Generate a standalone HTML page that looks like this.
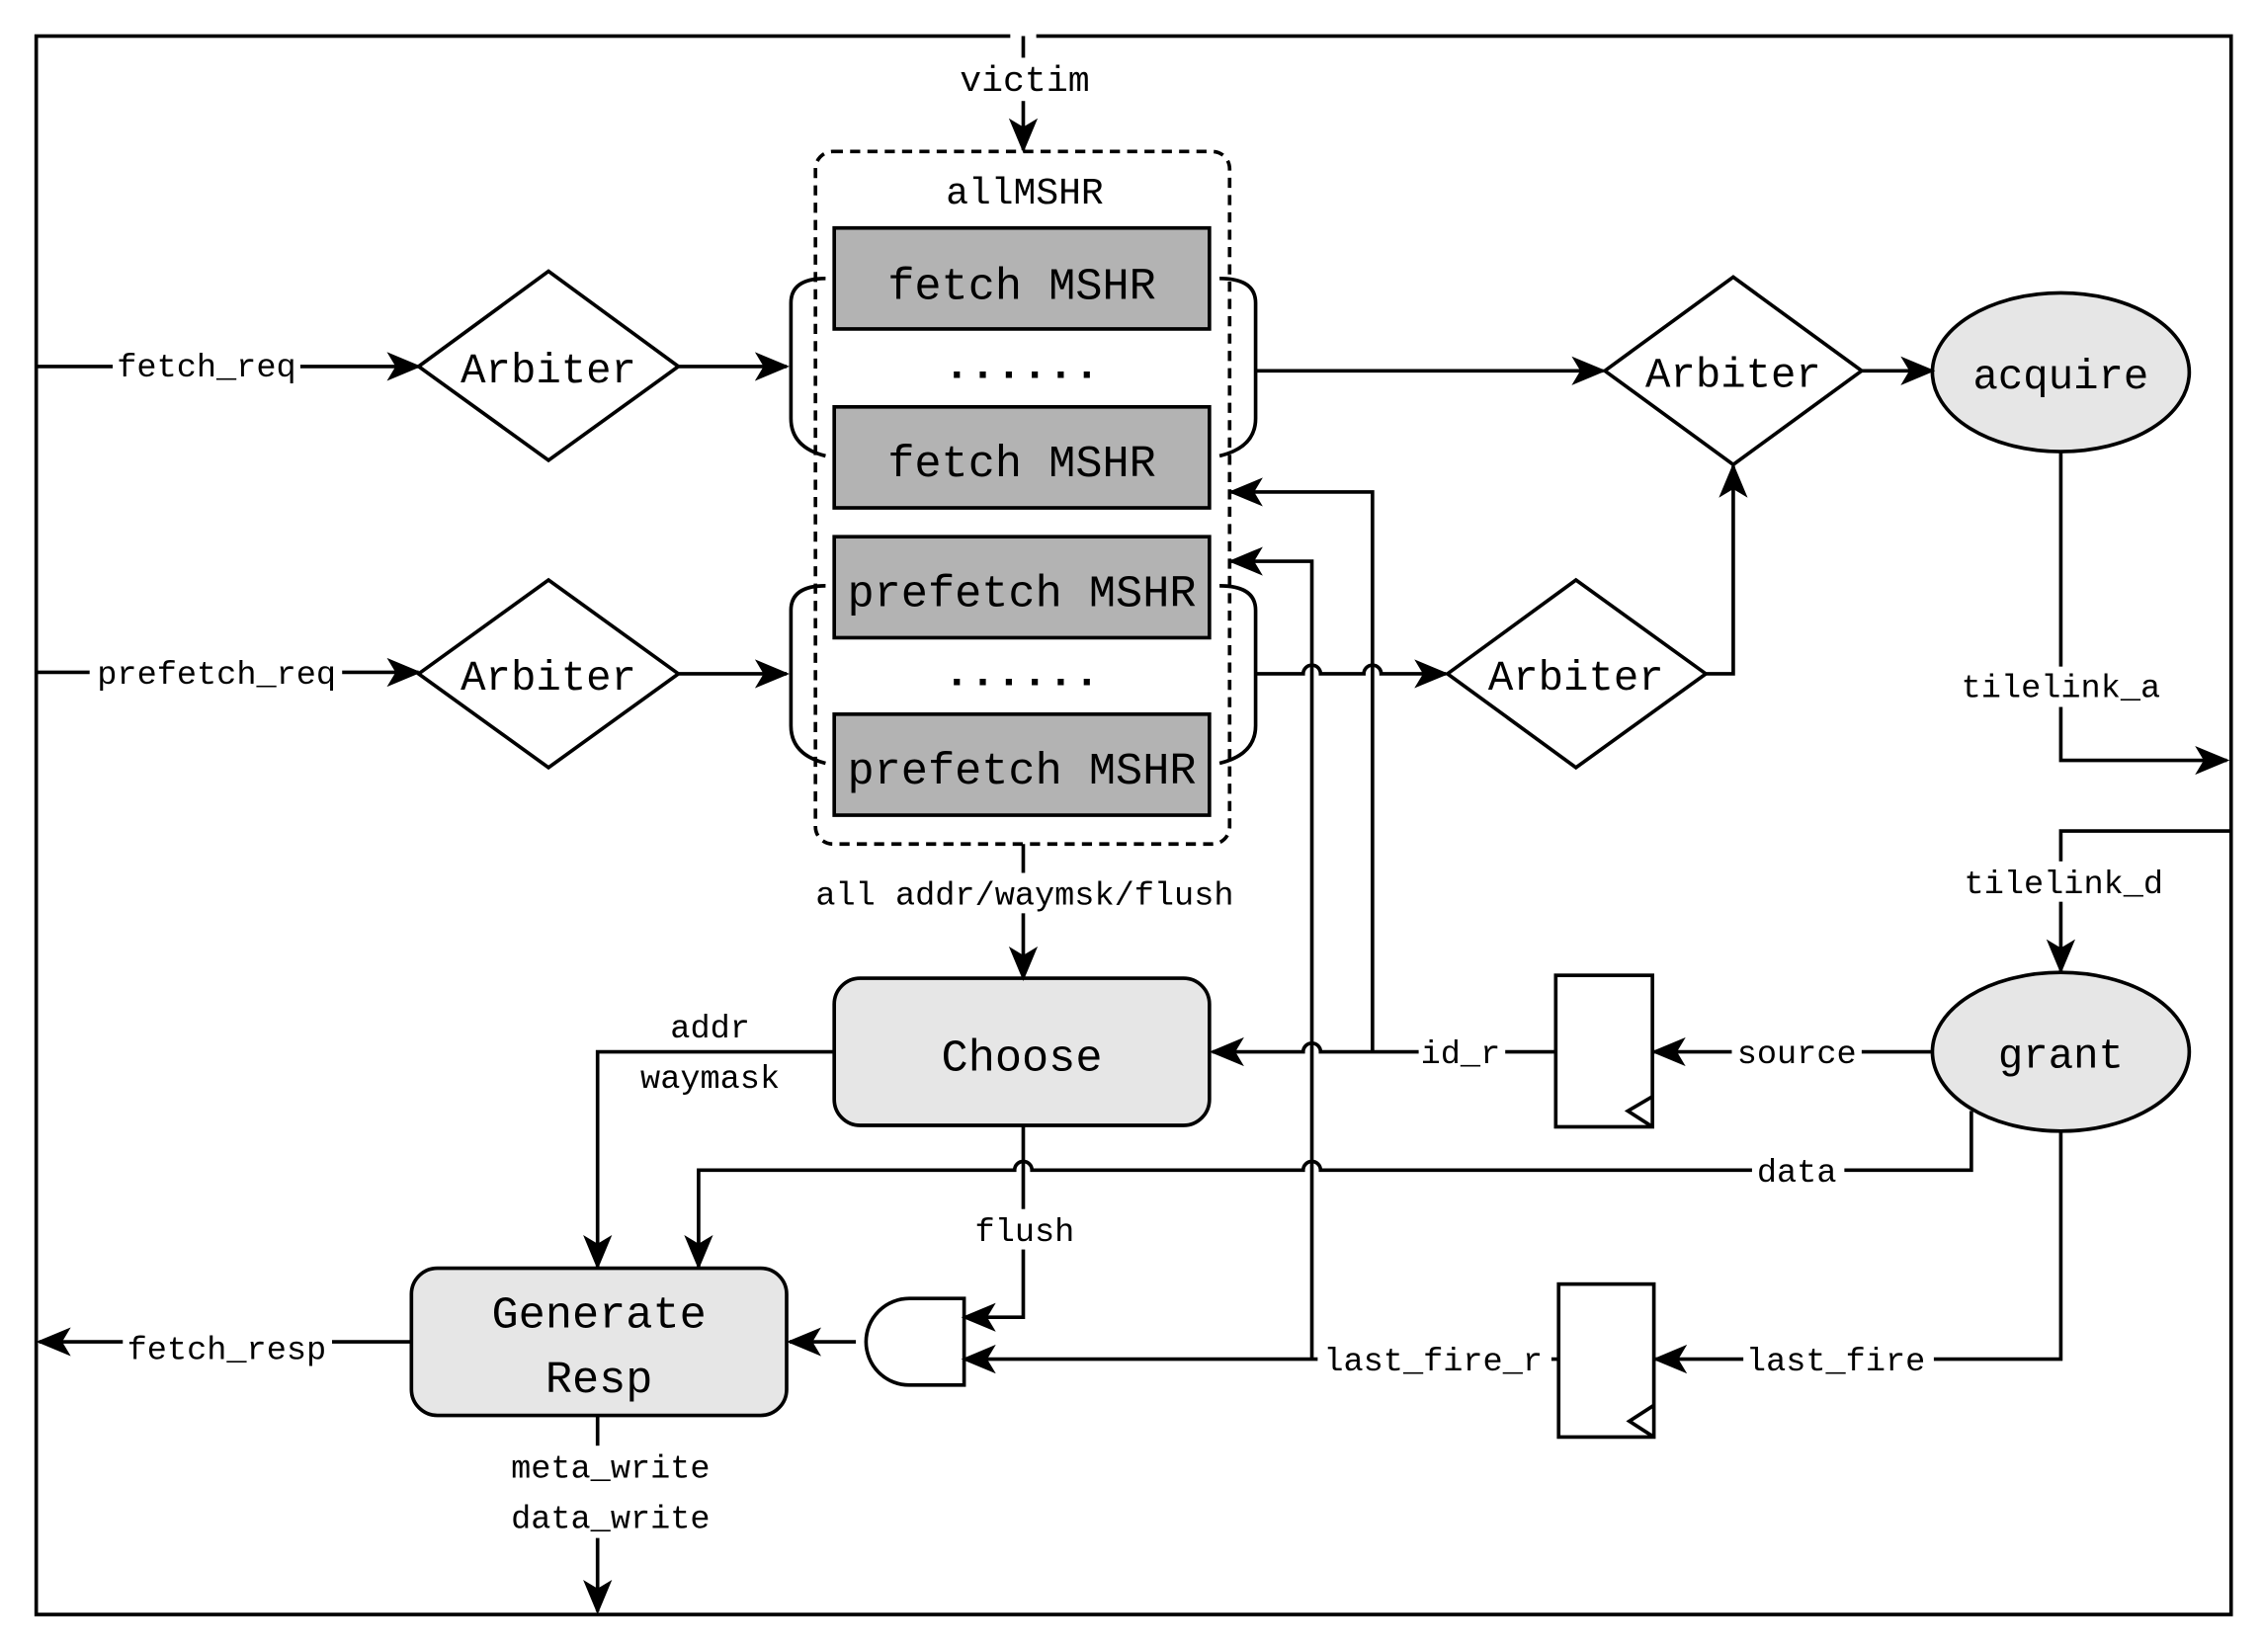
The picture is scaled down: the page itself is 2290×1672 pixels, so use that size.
<!DOCTYPE html>
<html><head><meta charset="utf-8"><style>html,body{margin:0;padding:0;background:#fff}svg{display:block}</style></head>
<body>
<svg width="2290" height="1672" viewBox="0 0 1568 1145" xmlns="http://www.w3.org/2000/svg" font-family="Liberation Mono, monospace">
<defs>
<marker id="a" markerWidth="12" markerHeight="12" refX="11" refY="6" orient="auto" markerUnits="userSpaceOnUse" viewBox="0 0 12 12">
<path d="M0,0 L12,6 L0,12 L3,6 Z" fill="#000"/>
</marker>
<marker id="b" markerWidth="24" markerHeight="24" refX="22" refY="12" orient="auto" markerUnits="userSpaceOnUse" viewBox="0 0 24 24">
<path d="M0,2 L24,12 L0,22 L6,12 Z" fill="#000"/>
</marker>
</defs>
<g fill="none" stroke="#000" stroke-width="2.5">
<rect x="25" y="25" width="1521" height="1094"/>
<rect x="565" y="105" width="287" height="480" rx="12" stroke-dasharray="7,5"/>
</g>
<rect x="700" y="20" width="18" height="8" fill="#fff"/>
<g stroke="#000" stroke-width="2.5" fill="#b3b3b3">
<rect x="578" y="158" width="260" height="70"/>
<rect x="578" y="282" width="260" height="70"/>
<rect x="578" y="372" width="260" height="70"/>
<rect x="578" y="495" width="260" height="70"/>
</g>
<g stroke="#000" stroke-width="2.5" fill="#fff">
<polygon points="290,254 380,188 470,254 380,319"/>
<polygon points="290,467 380,402 470,467 380,532"/>
<polygon points="1112,257 1201,192 1290,257 1201,322"/>
<polygon points="1003,467 1092,402 1182,467 1092,532"/>
<rect x="1078" y="676" width="67" height="105"/>
<rect x="1080" y="890" width="66" height="106"/>
</g>
<g stroke="#000" stroke-width="2.5" fill="#e6e6e6">
<ellipse cx="1428" cy="258" rx="89" ry="55"/>
<ellipse cx="1428" cy="729" rx="89" ry="55"/>
<rect x="578" y="678" width="260" height="102" rx="18"/>
<rect x="285" y="879" width="260" height="102" rx="18"/>
</g>
<g fill="none" stroke="#000" stroke-width="2.5">
<path d="M1145,760 L1128,770 L1145,781"/>
<path d="M1146,974 L1129,985 L1146,996"/>
<path d="M630,900 L668,900 L668,960 L630,960 A30,30 0 0 1 630,900 Z" fill="#fff"/>
<!-- braces -->
<path d="M572,193 Q548,193 548,210 L548,290 Q548,310 572,316"/>
<path d="M572,406 Q548,406 548,423 L548,503 Q548,523 572,529"/>
<path d="M845,193 Q870,193 870,210 L870,290 Q870,310 845,316"/>
<path d="M845,406 Q870,406 870,423 L870,503 Q870,523 845,529"/>
</g>
<g fill="none" stroke="#000" stroke-width="2.5" marker-end="url(#b)">
<line x1="709" y1="25" x2="709" y2="104"/>
<line x1="25" y1="254" x2="290" y2="254"/>
<line x1="25" y1="466" x2="290" y2="466"/>
<line x1="470" y1="254" x2="545" y2="254"/>
<line x1="470" y1="467" x2="545" y2="467"/>
<line x1="870" y1="257" x2="1111" y2="257"/>
<path d="M870,467 L903,467 A6,6 0 0 1 915,467 L945,467 A6,6 0 0 1 957,467 L1002,467"/>
<path d="M1182,467 L1201,467 L1201,323"/>
<line x1="1290" y1="257" x2="1339" y2="257"/>
<path d="M1428,313 L1428,527 L1543,527"/>
<path d="M1546,576 L1428,576 L1428,673"/>
<line x1="709" y1="585" x2="709" y2="678"/>
<line x1="1339" y1="729" x2="1146" y2="729"/>
<path d="M1078,729 L915,729 A6,6 0 0 0 903,729 L840,729"/>
<path d="M951,729 L951,341 L853,341"/>
<path d="M1428,783 L1428,942 L1147,942"/>
<line x1="1080" y1="942" x2="668" y2="942"/>
<path d="M909,942 L909,389 L853,389"/>
<path d="M1366,770 L1366,811 L915,811 A6,6 0 0 0 903,811 L715,811 A6,6 0 0 0 703,811 L484,811 L484,878"/>
<path d="M578,729 L414,729 L414,878"/>
<path d="M709,780 L709,913 L668,913"/>
<line x1="593" y1="930" x2="547" y2="930"/>
<line x1="285" y1="930" x2="27" y2="930"/>
<line x1="414" y1="981" x2="414" y2="1117"/>
</g>
<g font-size="23" text-anchor="middle" fill="#000">
<rect x="640" y="40" width="138" height="30" fill="#fff"/>
<text x="710" y="63" font-size="25">victim</text>
<text x="710" y="141" font-size="26">allMSHR</text>
<rect x="78" y="240" width="130" height="28" fill="#fff"/><text x="143" y="261">fetch_req</text>
<rect x="62" y="452" width="175" height="28" fill="#fff"/><text x="150" y="474">prefetch_req</text>
<rect x="1355" y="462" width="146" height="28" fill="#fff"/><text x="1428" y="483">tilelink_a</text>
<rect x="1355" y="597" width="146" height="28" fill="#fff"/><text x="1430" y="619">tilelink_d</text>
<rect x="558" y="605" width="304" height="28" fill="#fff"/><text x="710" y="627">all addr/waymsk/flush</text>
<text x="492" y="719">addr</text><text x="492" y="754">waymask</text>
<rect x="1200" y="715" width="90" height="28" fill="#fff"/><text x="1245" y="737">source</text>
<rect x="983" y="715" width="60" height="28" fill="#fff"/><text x="1012" y="737">id_r</text>
<rect x="1214" y="797" width="64" height="28" fill="#fff"/><text x="1245" y="819">data</text>
<rect x="672" y="838" width="76" height="28" fill="#fff"/><text x="710" y="860">flush</text>
<rect x="1208" y="928" width="132" height="28" fill="#fff"/><text x="1272" y="950">last_fire</text>
<rect x="913" y="928" width="162" height="28" fill="#fff"/><text x="993" y="950">last_fire_r</text>
<rect x="85" y="920" width="145" height="28" fill="#fff"/><text x="157" y="942">fetch_resp</text>
<rect x="350" y="1002" width="146" height="64" fill="#fff"/>
<text x="423" y="1024">meta_write</text><text x="423" y="1059">data_write</text>
<g font-size="31">
<text x="708" y="207">fetch MSHR</text>
<text x="708" y="330">fetch MSHR</text>
<text x="708" y="420">prefetch MSHR</text>
<text x="708" y="543">prefetch MSHR</text>
<text x="708" y="742">Choose</text>
<text x="415" y="920">Generate</text>
<text x="415" y="965">Resp</text>
</g>
<g font-size="29">
<text x="380" y="265">Arbiter</text>
<text x="380" y="478">Arbiter</text>
<text x="1201" y="268">Arbiter</text>
<text x="1092" y="478">Arbiter</text>
<text x="1428" y="269">acquire</text>
<text x="1428" y="740">grant</text>
</g>
<text x="708" y="262" font-size="30" font-weight="bold">......</text>
<text x="708" y="475" font-size="30" font-weight="bold">......</text>
</g>
</svg>
</body></html>
